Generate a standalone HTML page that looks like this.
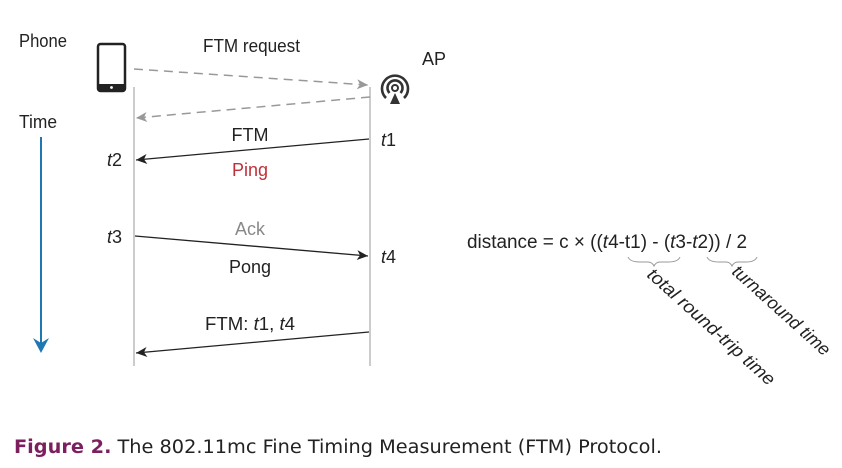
<!DOCTYPE html>
<html><head><meta charset="utf-8"><style>
html,body{margin:0;padding:0;background:#fff;}
svg{display:block;}
.t{font-family:"Liberation Sans Narrow","Liberation Sans",sans-serif;fill:#222;font-size:17px;}
.i{font-style:italic;}
</style></head><body>
<svg width="842" height="468" viewBox="0 0 842 468" xmlns="http://www.w3.org/2000/svg">
<defs>
<marker id="ab" markerWidth="12" markerHeight="10" refX="11" refY="5" orient="auto" markerUnits="userSpaceOnUse"><path d="M0,0 L11,5 L0,10 L3,5 Z" fill="#222"/></marker>
<marker id="ag" markerWidth="12" markerHeight="10" refX="11" refY="5" orient="auto" markerUnits="userSpaceOnUse"><path d="M0,0 L11,5 L0,10 L3,5 Z" fill="#999"/></marker>
</defs>
<line x1="134" y1="87" x2="134" y2="366" stroke="#bbb" stroke-width="1.5"/>
<line x1="370" y1="87" x2="370" y2="366" stroke="#bbb" stroke-width="1.5"/>
<rect x="98" y="44" width="27" height="47" rx="2.5" fill="none" stroke="#222" stroke-width="2.5"/>
<rect x="98" y="84" width="27" height="7" fill="#222"/>
<circle cx="111.5" cy="87.5" r="1.4" fill="#fff"/>
<!-- AP icon -->
<path d="M386,98 A13,13 0 1 1 404,98" fill="none" stroke="#333" stroke-width="2.6"/>
<path d="M389.5,93 A7.5,7.5 0 1 1 400.5,93" fill="none" stroke="#333" stroke-width="2.6"/>
<circle cx="395" cy="88" r="3" fill="none" stroke="#333" stroke-width="2"/>
<path d="M395,93 L400,104 L390,104 Z" fill="#333"/>
<line x1="134" y1="69" x2="368" y2="85" stroke="#999" stroke-width="1.5" stroke-dasharray="9,6" marker-end="url(#ag)"/>
<line x1="370" y1="97" x2="136" y2="118" stroke="#999" stroke-width="1.5" stroke-dasharray="9,6" marker-end="url(#ag)"/>
<line x1="369" y1="139" x2="136" y2="160" stroke="#222" stroke-width="1.3" marker-end="url(#ab)"/>
<line x1="135" y1="236" x2="368" y2="256" stroke="#222" stroke-width="1.3" marker-end="url(#ab)"/>
<line x1="369" y1="332" x2="136" y2="353" stroke="#222" stroke-width="1.3" marker-end="url(#ab)"/>
<line x1="41" y1="137" x2="41" y2="343" stroke="#1f78b4" stroke-width="2"/>
<path d="M33,338 L41,353 L49,338 L41,343 Z" fill="#1f78b4"/>
<text class="t" x="19" y="47" style="font-size:18px" textLength="48" lengthAdjust="spacingAndGlyphs">Phone</text>
<text class="t" x="203" y="52" style="font-size:18px" textLength="97" lengthAdjust="spacingAndGlyphs">FTM request</text>
<text class="t" x="422" y="65" style="font-size:18px">AP</text>
<text class="t" x="19" y="128" style="font-size:18px" textLength="38" lengthAdjust="spacingAndGlyphs">Time</text>
<text class="t" x="250" y="141" text-anchor="middle" style="font-size:18px">FTM</text>
<text class="t" x="381" y="146" style="font-size:18px"><tspan class="i">t</tspan>1</text>
<text class="t" x="107" y="166" style="font-size:18px"><tspan class="i">t</tspan>2</text>
<text class="t" x="250" y="176" text-anchor="middle" style="fill:#c0303a;font-size:18px">Ping</text>
<text class="t" x="250" y="235" text-anchor="middle" style="fill:#888;font-size:18px">Ack</text>
<text class="t" x="107" y="243" style="font-size:18px"><tspan class="i">t</tspan>3</text>
<text class="t" x="381" y="263" style="font-size:18px"><tspan class="i">t</tspan>4</text>
<text class="t" x="250" y="273" text-anchor="middle" style="font-size:18px">Pong</text>
<text class="t" x="205" y="330" style="font-size:18px" textLength="90" lengthAdjust="spacingAndGlyphs">FTM: <tspan class="i">t</tspan>1, <tspan class="i">t</tspan>4</text>
<text class="t" x="467" y="248" style="font-size:19px" textLength="280" lengthAdjust="spacingAndGlyphs">distance = c × ((<tspan class="i">t</tspan>4-t1) - (<tspan class="i">t</tspan>3-<tspan class="i">t</tspan>2)) / 2</text>
<path d="M628,257 Q630,262 640,262 L648,262 Q652,262 654,266 Q656,262 660,262 L668,262 Q678,262 680,257" fill="none" stroke="#999" stroke-width="1"/>
<path d="M707,257 Q709,262 719,262 L726,262 Q730,262 732,266 Q734,262 738,262 L746,262 Q755,262 757,257" fill="none" stroke="#999" stroke-width="1"/>
<text class="t i" x="646" y="276" transform="rotate(42 646 276)" style="font-size:18px" textLength="165" lengthAdjust="spacingAndGlyphs">total round-trip time</text>
<text class="t i" x="731" y="273" transform="rotate(42 731 273)" style="font-size:18px" textLength="125" lengthAdjust="spacingAndGlyphs">turnaround time</text>
<text x="14" y="453" style="font-family:'DejaVu Sans','Liberation Sans',sans-serif;font-size:18.5px;fill:#222" textLength="648" lengthAdjust="spacingAndGlyphs"><tspan style="fill:#7b1f5e;font-weight:bold">Figure 2.</tspan> The 802.11mc Fine Timing Measurement (FTM) Protocol.</text>
</svg>
</body></html>
